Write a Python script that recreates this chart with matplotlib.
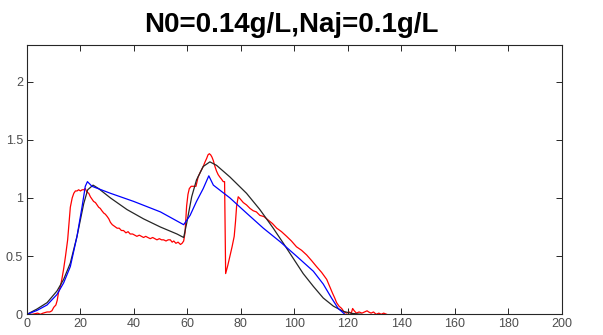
import matplotlib
matplotlib.use("Agg")
import matplotlib.pyplot as plt

title = "N0=0.14g/L,Naj=0.1g/L"
x_ticks = [0, 20, 40, 60, 80, 100, 120, 140, 160, 180, 200]
y_ticks = [0, 0.5, 1, 1.5, 2]
y_tick_labels = ["0", "0.5", "1", "1.5", "2"]

# Experimental (red)
red_x = [0, 2, 4, 5, 6, 7.5, 8.5, 9.3, 10, 10.8,
         11.3, 11.8, 12.5, 13.1, 13.7, 14.4, 15.2, 15.7, 16.2, 16.9,
         17.5, 18.1, 18.7, 19.3, 20.0, 20.6, 21.2, 21.8, 22.4, 23.1,
         23.7, 24.3, 24.9, 25.6, 26.2, 26.8, 27.4, 28.0, 28.7, 29.3,
         30.0, 30.6, 31.2, 31.9, 32.5, 33.1, 33.7, 34.5, 35.3, 36.1,
         37.0, 37.8, 38.6, 39.5, 40.3, 41.1, 42.0, 42.8, 43.6, 44.4,
         45.2, 46.1, 47.0, 47.8, 48.6, 49.5, 50.3, 51.1, 52.0, 52.8,
         53.6, 54.3, 54.9, 55.7, 56.5, 57.4, 58.0, 58.6, 59.1, 59.7,
         60.2, 60.7, 61.4, 62.2, 63.2, 64.0, 65.0, 65.9, 66.6, 67.2,
         67.7, 68.2, 68.7, 69.2, 69.7, 70.3, 70.9, 71.5, 72.1, 72.8,
         73.4, 73.9, 74.3, 75.1, 75.9, 76.7, 77.5, 78.0, 78.4, 79.0,
         79.8, 80.9, 82.1, 83.4, 84.6, 85.8, 87.1, 88.6, 90.2, 91.8,
         93.4, 95.2, 97.1, 98.9, 100.8, 102.7, 104.6, 106.5, 108.3, 110.2,
         112.1, 113.2, 114.3, 115.1, 115.8, 116.7, 117.7, 118.6, 119.6, 120.5,
         121.3, 121.8, 122.4, 123.2, 124.2, 125.3, 126.3, 127.2, 127.8, 128.7,
         129.6, 130.6, 131.6, 132.5, 133.4, 134.5]
red_y = [0, 0.0, 0.01, 0.0, 0.01, 0.02, 0.02, 0.03, 0.06, 0.08,
         0.12, 0.19, 0.24, 0.31, 0.39, 0.50, 0.64, 0.78, 0.92, 1.00,
         1.04, 1.06, 1.06, 1.07, 1.06, 1.07, 1.07, 1.08, 1.05, 1.04,
         1.01, 0.99, 0.97, 0.96, 0.94, 0.92, 0.91, 0.89, 0.87, 0.86,
         0.84, 0.82, 0.79, 0.77, 0.76, 0.75, 0.74, 0.74, 0.72, 0.72,
         0.70, 0.71, 0.69, 0.69, 0.68, 0.67, 0.68, 0.67, 0.66, 0.67,
         0.66, 0.65, 0.66, 0.65, 0.64, 0.65, 0.64, 0.64, 0.63, 0.64,
         0.64, 0.62, 0.63, 0.61, 0.62, 0.60, 0.61, 0.63, 0.70, 0.93,
         1.03, 1.08, 1.10, 1.10, 1.10, 1.18, 1.23, 1.27, 1.31, 1.34,
         1.37, 1.38, 1.37, 1.35, 1.32, 1.27, 1.23, 1.20, 1.18, 1.16,
         1.14, 1.14, 0.35, 0.42, 0.50, 0.58, 0.67, 0.80, 0.93, 1.01,
         0.99, 0.96, 0.94, 0.91, 0.89, 0.88, 0.85, 0.84, 0.81, 0.78,
         0.74, 0.71, 0.67, 0.63, 0.58, 0.55, 0.51, 0.46, 0.41, 0.36,
         0.30, 0.24, 0.18, 0.14, 0.10, 0.07, 0.05, 0.02, 0.01, 0.02,
         0.01, 0.05, 0.03, 0.01, 0.02, 0.01, 0.02, 0.03, 0.02, 0.01,
         0.02, 0.0, 0.01, 0.0, 0.01, 0.0]

# Model 1 (blue)
blue_x = [0, 3.7, 7.5, 11.2, 13.7, 16.2, 18.7, 20.6, 21.8, 22.6,
          24.3, 31.2, 39.9, 49.9, 58.6, 61.0, 63.4, 65.9, 68.0, 69.7,
          75.9, 82.1, 88.4, 94.6, 100.8, 107.1, 110.8, 113.9, 116.4, 118.9]
blue_y = [0, 0.033, 0.08, 0.17, 0.27, 0.41, 0.67, 0.925, 1.10, 1.14,
          1.10, 1.04, 0.97, 0.88, 0.77, 0.85, 0.97, 1.08, 1.19, 1.11,
          1.00, 0.87, 0.74, 0.625, 0.50, 0.37, 0.26, 0.14, 0.05, 0.0]

# Model 2 (black)
black_x = [0, 3.7, 7.5, 11.2, 13.7, 16.2, 18.7, 21.2, 22.7, 24.7,
           26.8, 31.2, 37.4, 43.6, 49.9, 56.1, 58.6, 59.7, 61.6, 63.4,
           65.9, 68.4, 70.9, 75.9, 82.1, 87.1, 92.1, 95.9, 99.6, 103.3,
           107.1, 110.8, 114.6, 118.3, 121.5, 125]
black_y = [0, 0.045, 0.10, 0.20, 0.30, 0.44, 0.67, 0.95, 1.07, 1.11,
           1.08, 1.00, 0.90, 0.82, 0.75, 0.69, 0.66, 0.78, 1.01, 1.155,
           1.27, 1.31, 1.28, 1.18, 1.04, 0.90, 0.74, 0.61, 0.48, 0.35,
           0.24, 0.14, 0.07, 0.025, 0.008, 0.0]

plt.rcParams['font.family'] = ['Liberation Sans', 'DejaVu Sans']

fig = plt.figure(figsize=(6.03, 3.35), dpi=100)
ax = fig.add_axes([0.0448, 0.0618, 0.8867, 0.8024])

ax.plot(red_x, red_y, color='#ff0000', lw=0.9)
ax.plot(black_x, black_y, color='#262626', lw=0.9)
ax.plot(blue_x, blue_y, color='#0000ff', lw=0.9)

ax.set_xlim(0, 200)
ax.set_ylim(0, 2.31)
ax.set_xticks(x_ticks)
ax.set_xticklabels([str(v) for v in x_ticks])
ax.set_yticks(y_ticks)
ax.set_yticklabels(y_tick_labels)
ax.tick_params(direction='in', top=True, right=True, length=4, width=0.7,
               colors='#262626', labelcolor='#4d4d4d', labelsize=9, pad=3)
for s in ax.spines.values():
    s.set_color('#262626')
    s.set_linewidth(0.8)

fig.text(0.483, 0.925, title, ha='center', va='center', fontsize=20, fontweight='bold', color='black')

fig.savefig('out.png', dpi=100)
